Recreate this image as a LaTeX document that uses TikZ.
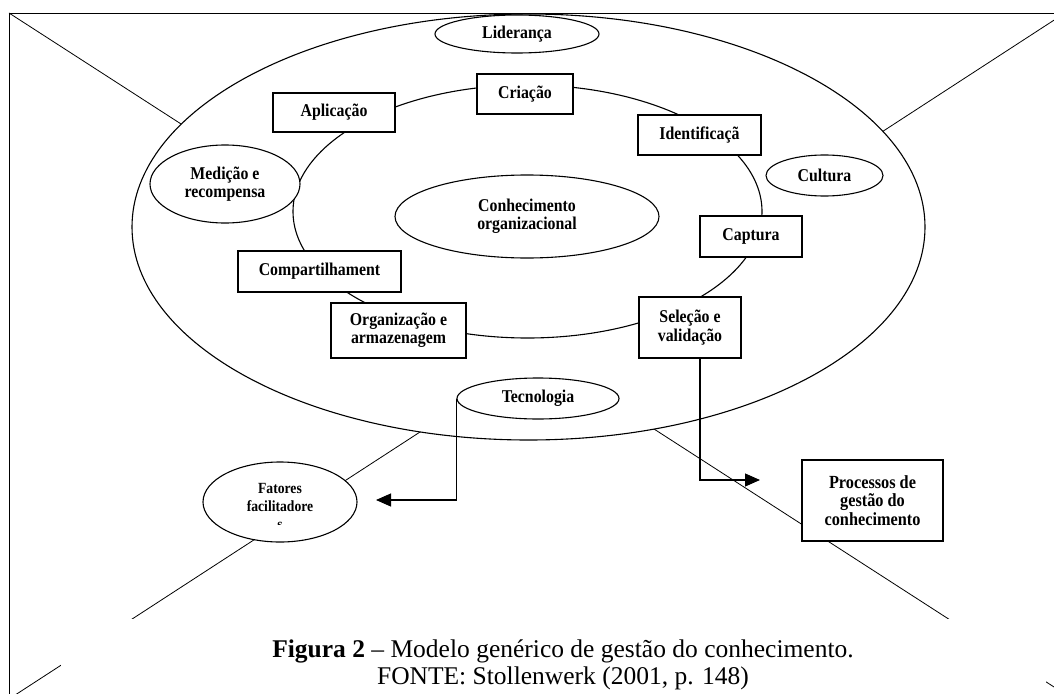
\documentclass[tikz,border=0pt]{standalone}
\usepackage{fontspec}
\setmainfont{Liberation Serif}
\newfontfamily\nodefont[FakeStretch=0.88]{Liberation Serif}
\usetikzlibrary{shapes.geometric,arrows.meta}
\begin{document}
\begin{tikzpicture}[x=1pt,y=-1pt,
  lab/.style={font=\nodefont\fontsize{18}{18.3}\selectfont\bfseries, align=center, inner sep=0pt},
  box/.style={lab, draw, fill=white, line width=1.1pt},
  oval/.style={lab, ellipse, draw, fill=white, line width=1.1pt},
  fatlab/.style={lab, font=\nodefont\fontsize{15.5}{18}\selectfont\bfseries, anchor=base},
  diag/.style={line width=0.8pt},
  conn/.style={line width=1.1pt, -{Triangle[length=15pt,width=13pt]}}
]
\useasboundingbox (0,0) rectangle (1054,693);
% frame corners and diagonals
\coordinate (TL) at (9,13);
\coordinate (BRc) at (1070,697.3);
\coordinate (TRc) at (1065,13);
\coordinate (BLc) at (5,701.6);
\draw[diag] (TL) -- (BRc);
\draw[diag] (TRc) -- (BLc);
% outer ellipse
\node[ellipse, draw, fill=white, line width=1.1pt, inner sep=0pt,
      minimum width=793, minimum height=426] (outer) at (528.5,227) {};
% inner ring
\node[ellipse, draw, line width=1.1pt, inner sep=0pt,
      minimum width=469, minimum height=253] (ring) at (527.5,211.5) {};
% nodes
\node[oval, minimum width=164, minimum height=38] (lid) at (517,34) {Liderança};
\node[box, minimum width=96, minimum height=40] (cri) at (525,94) {Criação};
\node[box, minimum width=122, minimum height=39] (apl) at (334,112.5) {Aplicação};
\node[box, minimum width=123, minimum height=40] (ide) at (699.5,135) {Identificaçã};
\node[oval, minimum width=150, minimum height=78] (med) at (225,184) {Medição e\\recompensa};
\node[oval, minimum width=117, minimum height=41] (cul) at (824.5,175.5) {Cultura};
\node[oval, minimum width=264, minimum height=83] (con) at (527,216.5) {Conhecimento\\organizacional};
\node[box, minimum width=102, minimum height=41] (cap) at (751,236.5) {Captura};
\node[box, minimum width=163, minimum height=41] (com) at (319.5,271.5) {Compartilhament};
\node[box, minimum width=135, minimum height=55] (org) at (398.5,330.5) {Organização e\\armazenagem};
\node[box, minimum width=102, minimum height=61] (sel) at (690,327.5) {Seleção e\\validação};
\node[oval, minimum width=162, minimum height=41] (tec) at (538,398.5) {Tecnologia};
% Fatores facilitadores
\node[ellipse, draw, fill=white, line width=1.1pt, inner sep=0pt,
      minimum width=154, minimum height=80] (fat) at (280,502) {};
\node[fatlab] (fat1) at (280,493) {Fatores};
\node[fatlab] (fat2) at (280,511) {facilitadore};
\begin{scope}
  \clip (250,515) rectangle (310,524.5);
  \node[fatlab] (fat3) at (280,529) {s};
\end{scope}
% Processos
\node[box, font=\nodefont\fontsize{18.5}{18.5}\selectfont\bfseries, minimum width=141, minimum height=81] (pro) at (872.5,500.5) {Processos de\\gestão do\\conhecimento};
% connectors
\coordinate (fattip) at (376,500);
\coordinate (protip) at (760,480);
\draw[conn] (tec.west) |- (fattip);
\draw[conn] ([xshift=10pt]sel.south) |- (protip);
% caption
\node[fill=white, inner sep=0pt, minimum width=985, minimum height=85, anchor=north west] (capbox) at (61,619) {};
\node[font=\fontsize{25.5}{29}\selectfont, anchor=base, inner sep=0pt] (cap1) at (563,657)
  {\textbf{Figura 2} – Modelo genérico de gestão do conhecimento.};
\node[font=\fontsize{25.5}{29}\selectfont, anchor=base, inner sep=0pt] (cap2) at (563,684)
  {FONTE: Stollenwerk (2001, p. 148)};
% frame
\draw[line width=0.9pt] (TL) rectangle (1072,705);
\end{tikzpicture}
\end{document}
